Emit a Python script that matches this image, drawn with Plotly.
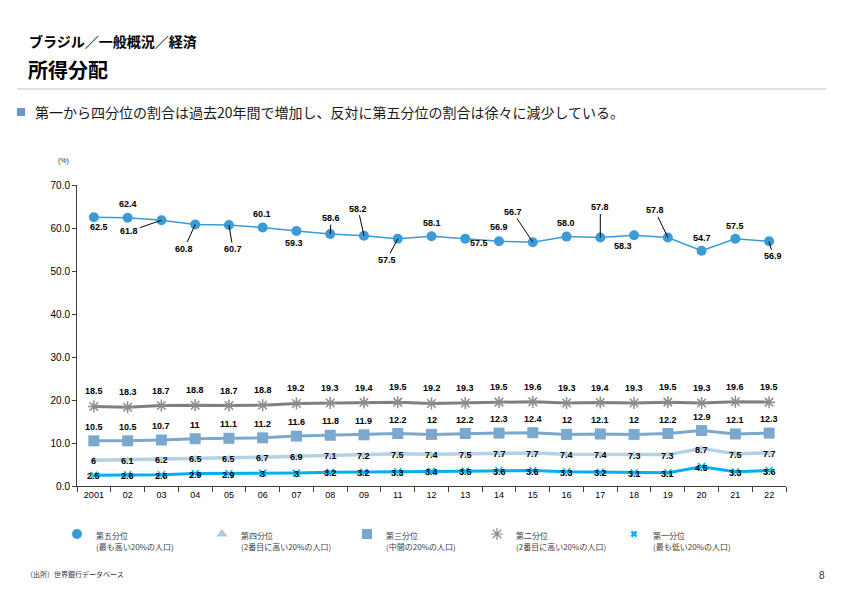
import plotly.graph_objects as go

years = ["2001", "02", "03", "04", "05", "06", "07", "08", "09", "11", "12",
         "13", "14", "15", "16", "17", "18", "19", "20", "21", "22"]
q5 = [62.5, 62.4, 61.8, 60.8, 60.7, 60.1, 59.3, 58.6, 58.2, 57.5, 58.1,
      57.5, 56.9, 56.7, 58.0, 57.8, 58.3, 57.8, 54.7, 57.5, 56.9]
q2 = [18.5, 18.3, 18.7, 18.8, 18.7, 18.8, 19.2, 19.3, 19.4, 19.5, 19.2,
      19.3, 19.5, 19.6, 19.3, 19.4, 19.3, 19.5, 19.3, 19.6, 19.5]
q3 = [10.5, 10.5, 10.7, 11, 11.1, 11.2, 11.6, 11.8, 11.9, 12.2, 12,
      12.2, 12.3, 12.4, 12, 12.1, 12, 12.2, 12.9, 12.1, 12.3]
q4 = [6, 6.1, 6.2, 6.5, 6.5, 6.7, 6.9, 7.1, 7.2, 7.5, 7.4,
      7.5, 7.7, 7.7, 7.4, 7.4, 7.3, 7.3, 8.7, 7.5, 7.7]
q1 = [2.5, 2.6, 2.6, 2.9, 2.9, 3, 3, 3.2, 3.2, 3.3, 3.4,
      3.5, 3.6, 3.6, 3.3, 3.2, 3.1, 3.1, 4.5, 3.3, 3.6]

q5_label = ["62.5", "62.4", "61.8", "60.8", "60.7", "60.1", "59.3", "58.6", "58.2", "57.5", "58.1",
            "57.5", "56.9", "56.7", "58.0", "57.8", "58.3", "57.8", "54.7", "57.5", "56.9"]

# label placement for top series: (dx, dy, leader line)
q5_place = [(5, 10, False), (0, -14, False), (-32, 11, True), (-11, 24, True), (4, 24, True),
            (-1, -14, False), (-2, 12, False), (1, -16, True), (-6, -27, True), (-11, 21, True),
            (0, -13, False), (14, 4, False), (0, -14, False), (-20, -30, True), (-1, -14, False),
            (0, -30, True), (-11, 11, False), (-13, -27, True), (0, -13, False), (0, -13, False),
            (4, 15, True)]

legend_names = ["第五分位", "第四分位", "第三分位", "第二分位", "第一分位"]
legend_notes = ["(最も高い20%の人口)", "(2番目に高い20%の人口)", "(中間の20%の人口)",
                "(2番目に高い20%の人口)", "(最も低い20%の人口)"]

C5 = "#3A9BD5"
C4 = "#B3D2E6"
C3 = "#7BA8CF"
C2 = "#7F7F7F"
C1 = "#00B0F0"

W, H = 842, 595
PL, PR, PT, PB = 77, 786, 185, 486   # plot area in page pixels


def px(x):
    return x / W


def py(y):
    return 1 - y / H


NUM = "Liberation Sans, Arial, sans-serif"
JP = "Noto Sans CJK JP, sans-serif"

fig = go.Figure()

fig.add_trace(go.Scatter(x=years, y=q2, mode="lines+markers", showlegend=False,
                         line=dict(color=C2, width=3),
                         marker=dict(symbol="asterisk-open", size=10, color="#8C8C8C",
                                     line=dict(color="#8C8C8C", width=1.5))))
fig.add_trace(go.Scatter(x=years, y=q3, mode="lines+markers", showlegend=False,
                         line=dict(color=C3, width=3),
                         marker=dict(symbol="square", size=11, color=C3)))
fig.add_trace(go.Scatter(x=years, y=q4, mode="lines+markers", showlegend=False,
                         line=dict(color=C4, width=3.5),
                         marker=dict(symbol="triangle-up", size=7, color=C4)))
fig.add_trace(go.Scatter(x=years, y=q1, mode="lines+markers", showlegend=False,
                         line=dict(color=C1, width=3),
                         marker=dict(symbol="x-thin-open", size=7, color=C1,
                                     line=dict(color=C1, width=1.5))))
fig.add_trace(go.Scatter(x=years, y=q5, mode="lines+markers", showlegend=False,
                         line=dict(color=C5, width=1.5),
                         marker=dict(symbol="circle", size=10, color=C5)))

# manual legend: full-page hidden axes whose data units are page pixels
leg_x = [77, 222, 367, 497, 634]
leg_y = 534
leg_styles = [
    dict(symbol="circle", size=10, color=C5),
    dict(symbol="triangle-up", size=10, color="#A9CBE3"),
    dict(symbol="square", size=10, color=C3),
    dict(symbol="asterisk-open", size=10, color="#8C8C8C", line=dict(color="#8C8C8C", width=1.2)),
    dict(symbol="x", size=6, color=C1),
]
for lx, st in zip(leg_x, leg_styles):
    fig.add_trace(go.Scatter(x=[lx], y=[leg_y], mode="markers", marker=st, showlegend=False,
                             xaxis="x2", yaxis="y2", hoverinfo="skip"))

ann = []
lab_font = dict(family=NUM, size=9, color="#000000")
for i, v in enumerate(q5):
    dx, dy, arrow = q5_place[i]
    if arrow:
        ann.append(dict(x=i, y=v, xref="x", yref="y", text="<b>%s</b>" % q5_label[i],
                        showarrow=True, ax=dx, ay=dy, arrowhead=0, arrowwidth=1,
                        arrowcolor="#000000", font=lab_font, standoff=0))
    else:
        ann.append(dict(x=i, y=v, xref="x", yref="y", text="<b>%s</b>" % q5_label[i],
                        showarrow=False, xshift=dx, yshift=-dy, font=lab_font))

for series, shift in [(q2, 15), (q3, 14), (q4, -1), (q1, -1)]:
    for i, v in enumerate(series):
        ann.append(dict(x=i, y=v, xref="x", yref="y", text="<b>%g</b>" % v,
                        showarrow=False, yshift=shift, font=lab_font))

leg_font = dict(family=JP, size=8, color="#404040")
for lx, nm, note in zip(leg_x, legend_names, legend_notes):
    ann.append(dict(x=px(lx + 17), y=py(535), xref="paper", yref="paper", xanchor="left",
                    yanchor="middle", text=nm, showarrow=False, font=leg_font))
    ann.append(dict(x=px(lx + 17), y=py(546), xref="paper", yref="paper", xanchor="left",
                    yanchor="middle", text=note, showarrow=False, font=leg_font))

# header texts
ann += [
    dict(x=px(27), y=py(41), xref="paper", yref="paper", xanchor="left", yanchor="middle",
         text="<b>ブラジル／一般概況／経済</b>", showarrow=False,
         font=dict(family=JP, size=14, color="#000000")),
    dict(x=px(26), y=py(69), xref="paper", yref="paper", xanchor="left", yanchor="middle",
         text="<b>所得分配</b>", showarrow=False,
         font=dict(family=JP, size=20, color="#000000")),
    dict(x=px(33), y=py(112), xref="paper", yref="paper", xanchor="left", yanchor="middle",
         text="第一から四分位の割合は過去20年間で増加し、反対に第五分位の割合は徐々に減少している。",
         showarrow=False, font=dict(family=JP, size=14, color="#1A1A1A")),
    dict(x=px(63), y=py(161), xref="paper", yref="paper", xanchor="center", yanchor="middle",
         text="(%)", showarrow=False, font=dict(family=NUM, size=7, color="#333333")),
    dict(x=px(24), y=py(574), xref="paper", yref="paper", xanchor="left", yanchor="middle",
         text="（出所）世界銀行データベース", showarrow=False,
         font=dict(family=JP, size=7, color="#333333")),
    dict(x=px(822), y=py(575), xref="paper", yref="paper", xanchor="center", yanchor="middle",
         text="8", showarrow=False, font=dict(family=NUM, size=10, color="#333333")),
]

shapes = [
    dict(type="line", xref="paper", yref="paper", x0=px(17), x1=px(826), y0=py(89), y1=py(89),
         line=dict(color="#BFBFBF", width=1)),
    dict(type="rect", xref="paper", yref="paper", x0=px(17), x1=px(25), y0=py(108), y1=py(116),
         fillcolor="#6A95D2", line=dict(width=0)),
]

fig.update_layout(
    width=W, height=H,
    margin=dict(l=0, r=0, t=0, b=0, autoexpand=False),
    paper_bgcolor="white", plot_bgcolor="rgba(0,0,0,0)",
    annotations=ann, shapes=shapes, showlegend=False,
    xaxis=dict(type="category", domain=[PL / W, PR / W], anchor="y",
               range=[-0.5, len(years) - 0.5], tickson="boundaries",
               ticks="outside", ticklen=5, tickcolor="#404040", showline=True,
               linecolor="#404040", linewidth=1, showgrid=False, zeroline=False,
               tickfont=dict(family=NUM, size=9, color="#000000"), fixedrange=True),
    yaxis=dict(domain=[1 - PB / H, 1 - PT / H], anchor="x",
               range=[0, 70], dtick=10, tickformat=".1f", ticks="outside", ticklen=4,
               tickcolor="#404040", showline=True, linecolor="#404040", linewidth=1,
               showgrid=False, zeroline=False,
               tickfont=dict(family=NUM, size=10, color="#000000"), fixedrange=True),
    xaxis2=dict(domain=[0, 1], anchor="y2", range=[0, W], visible=False, fixedrange=True),
    yaxis2=dict(domain=[0, 1], anchor="x2", range=[H, 0], visible=False, fixedrange=True),
)

fig.write_html("out.html")
